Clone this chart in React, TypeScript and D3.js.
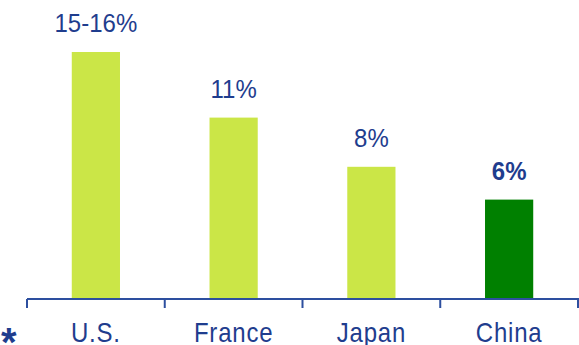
import React from "react";
import * as d3 from "d3";

const categories = ["U.S.", "France", "Japan", "China"];
const values = [15, 11, 8, 6];
const valueLabels = ["15-16%", "11%", "8%", "6%"];
const highlight = [false, false, false, true];

const W = 579;
const H = 345;
const BLUE = "#1f3d8e";
const AXIS = "#2d4f9f";
const LIGHT = "#cbe647";
const DARK = "#008000";
const FONT = "'Liberation Sans', Arial, sans-serif";

export default function App() {
  const x = d3.scaleBand<string>().domain(categories).range([27, 578]).padding(0);
  const y = d3.scaleLinear().domain([0, 15]).range([298, 52]);
  const bw = x.bandwidth() * 0.35;
  const axisY = 299;
  const tickXs = [...categories.map((c) => x(c) as number), x.range()[1]];

  return (
    <svg
      width={W}
      height={H}
      style={{ position: "absolute", left: 0, top: 0, background: "#fff" }}
    >
      {categories.map((c, i) => {
        const cx = (x(c) as number) + x.bandwidth() / 2;
        return (
          <g key={c}>
            <rect
              x={cx - bw / 2}
              y={y(values[i])}
              width={bw}
              height={y(0) - y(values[i])}
              fill={highlight[i] ? DARK : LIGHT}
            />
            <text
              transform={`translate(${cx},${y(values[i]) - 20}) scale(1,1.08)`}
              textAnchor="middle"
              fontFamily={FONT}
              fontSize={24}
              fontWeight={highlight[i] ? "bold" : "normal"}
              fill={BLUE}
            >
              {valueLabels[i]}
            </text>
            <text
              transform={`translate(${cx},342) scale(1,1.12)`}
              textAnchor="middle"
              fontFamily={FONT}
              fontSize={24}
              letterSpacing={0.8}
              fill={BLUE}
            >
              {c}
            </text>
          </g>
        );
      })}
      <line x1={27} x2={W} y1={axisY} y2={axisY} stroke={AXIS} strokeWidth={2} />
      {tickXs.map((tx, i) => (
        <line key={i} x1={tx} x2={tx} y1={axisY} y2={308} stroke={AXIS} strokeWidth={2} />
      ))}
      <text x={1} y={356} fontFamily={FONT} fontSize={40} fontWeight="bold" fill={BLUE}>
        *
      </text>
    </svg>
  );
}
